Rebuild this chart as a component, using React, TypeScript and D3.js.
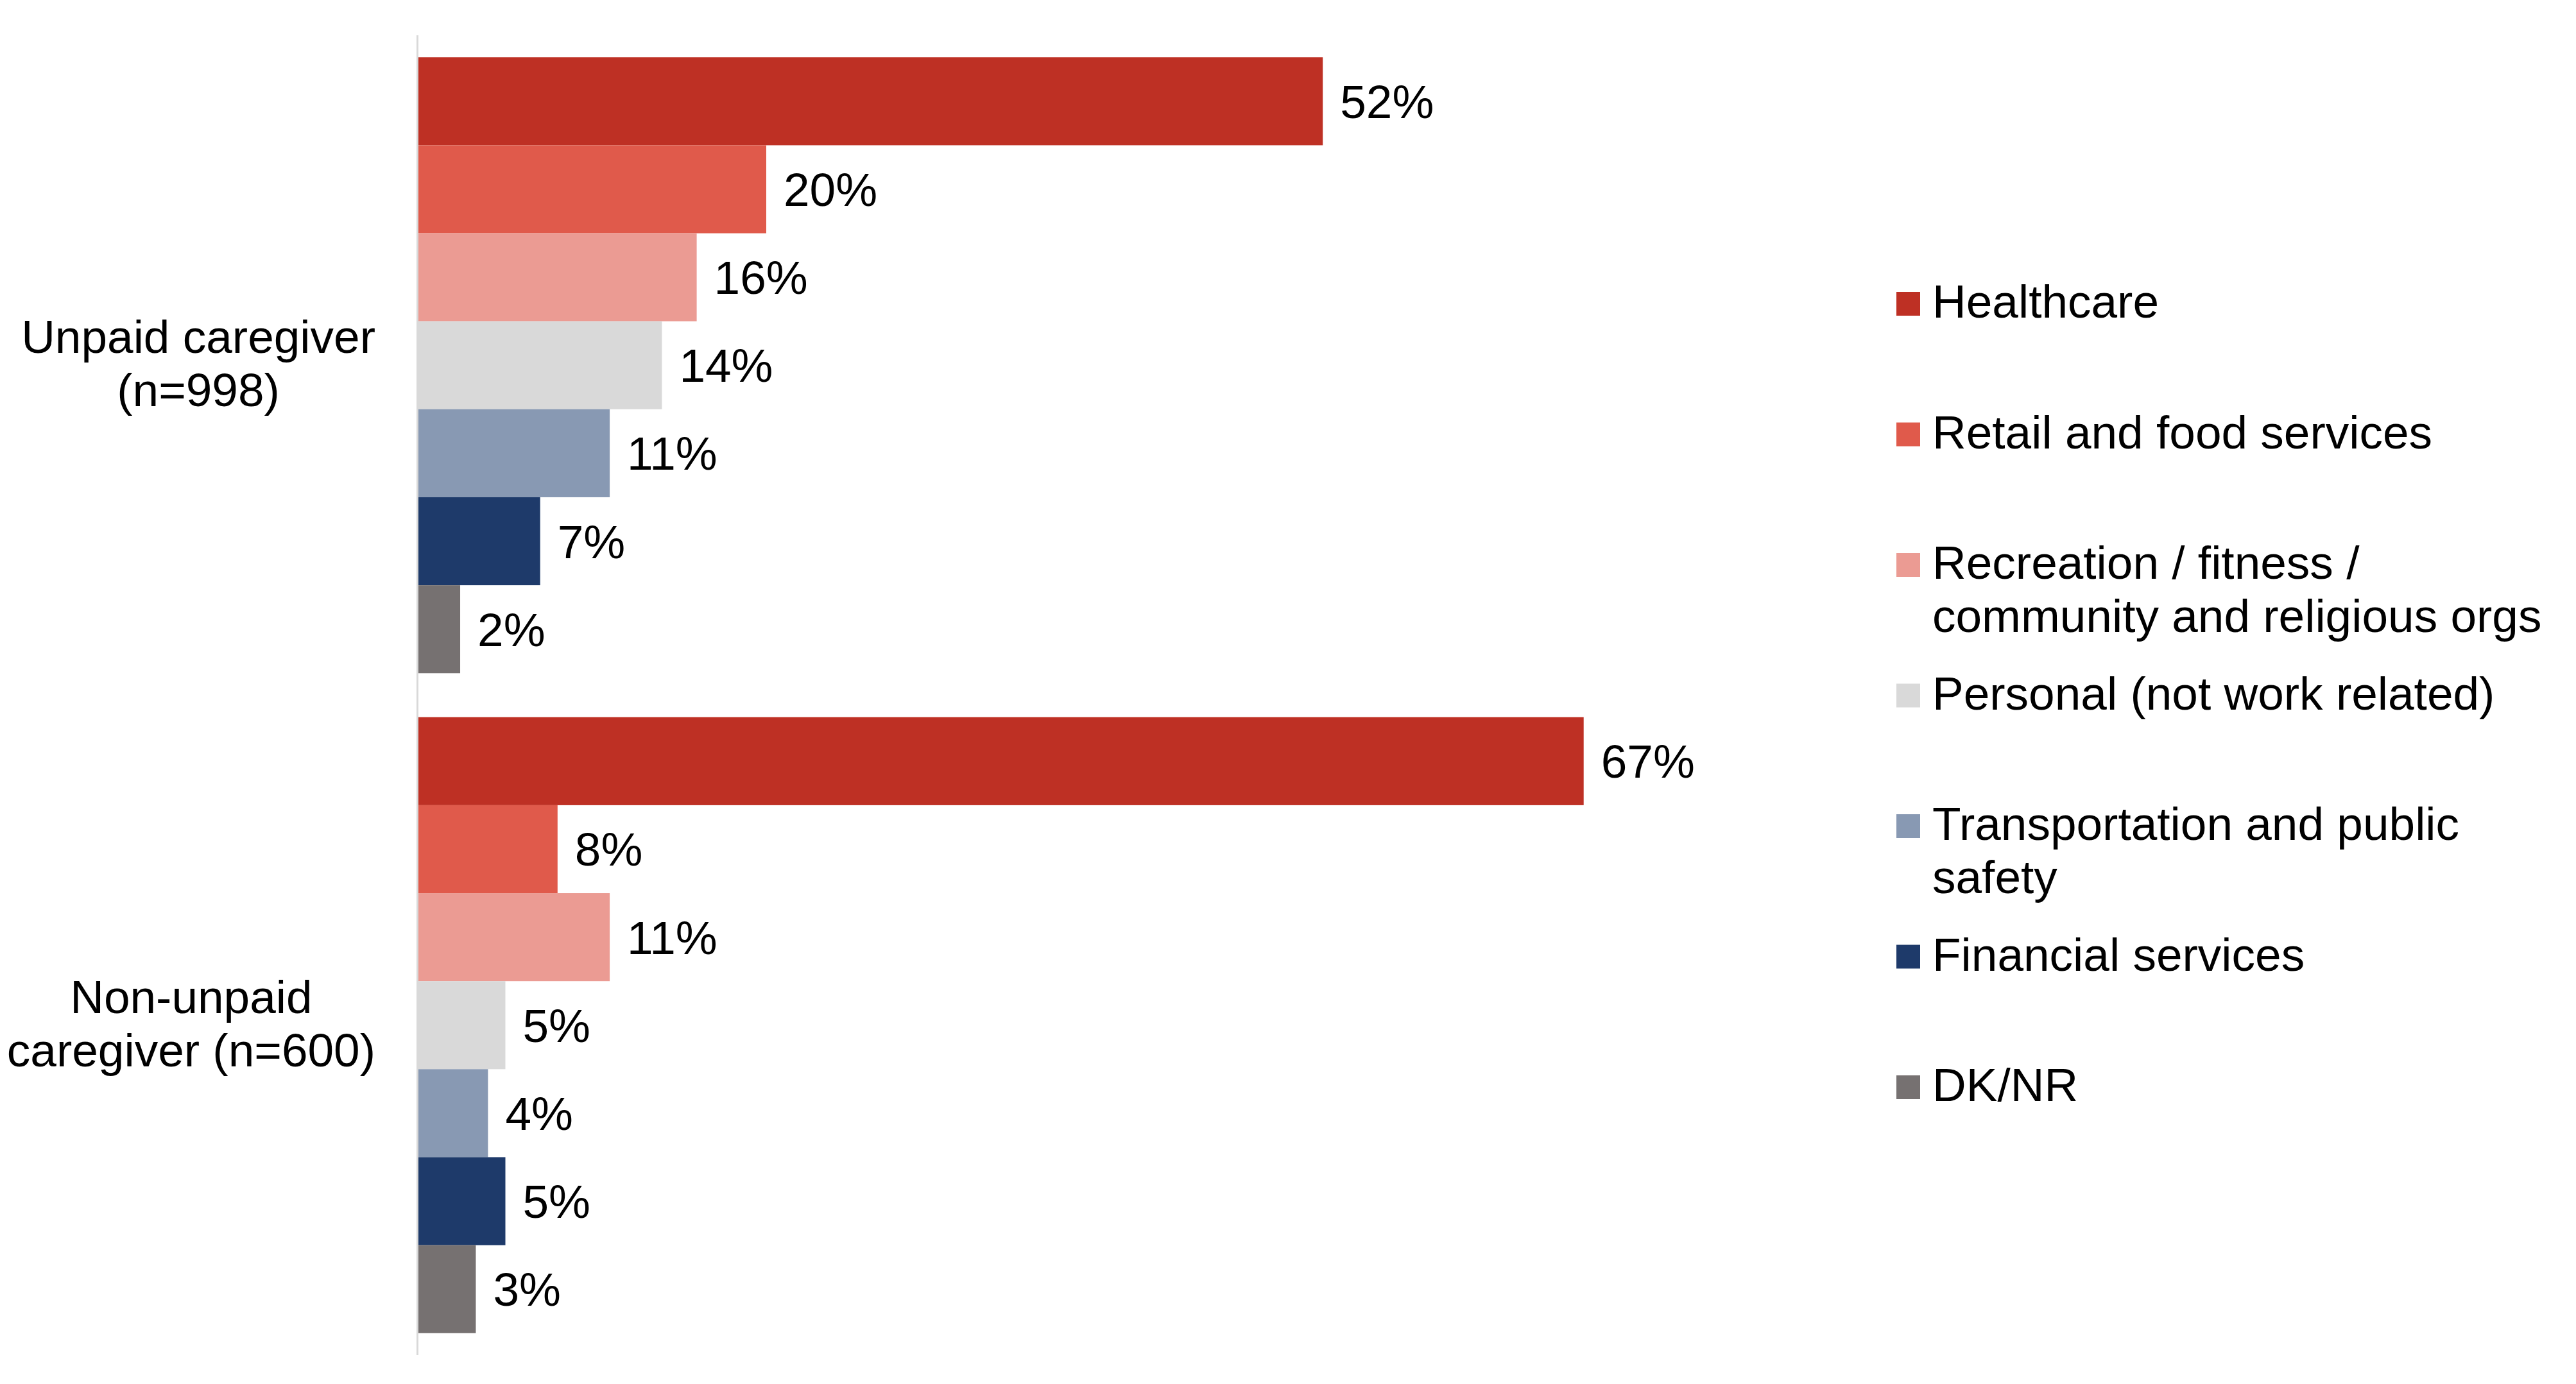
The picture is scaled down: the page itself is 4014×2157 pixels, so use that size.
import React from "react";
import * as d3 from "d3";

const categories = ["Unpaid caregiver (n=998)", "Non-unpaid caregiver (n=600)"];
const categoryLines = [
  ["Unpaid caregiver", "(n=998)"],
  ["Non-unpaid", "caregiver (n=600)"],
];
const seriesNames = [
  "Healthcare",
  "Retail and food services",
  "Recreation / fitness / community and religious orgs",
  "Personal (not work related)",
  "Transportation and public safety",
  "Financial services",
  "DK/NR",
];
const legendLines = [
  ["Healthcare"],
  ["Retail and food services"],
  ["Recreation / fitness /", "community and religious orgs"],
  ["Personal (not work related)"],
  ["Transportation and public", "safety"],
  ["Financial services"],
  ["DK/NR"],
];
const seriesColors = ["#BE3024", "#E05A4B", "#EB9B93", "#D9D9D9", "#8899B3", "#1E3A6A", "#767171"];
const unpaidValues = [52, 20, 16, 14, 11, 7, 2.4];
const nonUnpaidValues = [67, 8, 11, 5, 4, 5, 3.3];
const groupValues = [unpaidValues, nonUnpaidValues];

const W = 4014;
const H = 2157;
const FONT = "'Liberation Sans', Arial, Helvetica, sans-serif";
const FS = 73;

let ctx: CanvasRenderingContext2D | null = null;
function measure(t: string): number {
  if (typeof document === "undefined") return t.length * FS * 0.5;
  if (!ctx) {
    const c = document.createElement("canvas");
    ctx = c.getContext("2d");
  }
  if (!ctx) return t.length * FS * 0.5;
  ctx.font = `${FS}px ${FONT}`;
  return ctx.measureText(t).width;
}

export default function App() {
  const x0 = 652;
  const x = d3.scaleLinear().domain([0, 100]).range([x0, x0 + 2710]);
  const y = d3
    .scaleBand<string>()
    .domain(categories)
    .range([55, 2112])
    .paddingInner(0.0666)
    .paddingOuter(0.0333);
  const inner = d3.scaleBand<string>().domain(seriesNames).range([0, y.bandwidth()]).padding(0);

  const labelRight = 585;
  const legendX = 2955;
  const legendTop = 495;
  const legendStep = 203.5;
  const lineH = 83;

  return (
    <svg
      width={W}
      height={H}
      style={{ position: "absolute", left: 0, top: 0, background: "#fff" }}
      fontFamily={FONT}
    >
      <rect x={0} y={0} width={W} height={H} fill="#fff" />
      {categories.map((cat, ci) => {
        const gy = y(cat) as number;
        const center = gy + y.bandwidth() / 2;
        const lines = categoryLines[ci];
        const maxW = Math.max(...lines.map(measure));
        const cx = labelRight - maxW / 2;
        return (
          <g key={cat}>
            {seriesNames.map((s, si) => {
              const v = groupValues[ci][si];
              const by = gy + (inner(s) as number);
              return (
                <g key={s}>
                  <rect
                    x={x(0)}
                    y={by}
                    width={x(v) - x(0)}
                    height={inner.bandwidth()}
                    fill={seriesColors[si]}
                  />
                  <text
                    x={x(v) + 27}
                    y={by + inner.bandwidth() / 2 + 26}
                    fontSize={FS}
                    fill="#000"
                  >
                    {`${Math.round(v)}%`}
                  </text>
                </g>
              );
            })}
            {lines.map((ln, li) => (
              <text
                key={li}
                x={cx}
                y={center - 19 + li * lineH}
                fontSize={FS}
                textAnchor="middle"
                fill="#000"
              >
                {ln}
              </text>
            ))}
          </g>
        );
      })}
      <line x1={650.5} x2={650.5} y1={55} y2={2112} stroke="#D9D9D9" strokeWidth={3} />
      {seriesNames.map((s, si) => {
        const base = legendTop + si * legendStep;
        return (
          <g key={s}>
            <rect x={legendX} y={base - 40} width={37} height={37} fill={seriesColors[si]} />
            {legendLines[si].map((ln, li) => (
              <text key={li} x={legendX + 56} y={base + li * lineH} fontSize={FS} fill="#000">
                {ln}
              </text>
            ))}
          </g>
        );
      })}
    </svg>
  );
}
